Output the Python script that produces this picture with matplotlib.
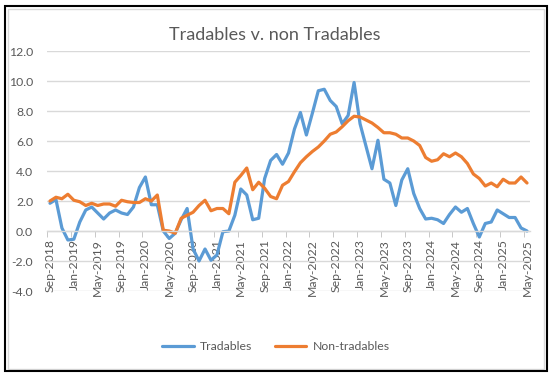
import numpy as np
import pandas as pd
import matplotlib
matplotlib.use("Agg")
import matplotlib.pyplot as plt
from matplotlib.patches import Rectangle

# monthly series, Sep-2018 .. May-2025
tradables = [
    1.85, 2.1, 0.2, -0.6, -0.55, 0.6, 1.4, 1.6, 1.2, 0.8, 1.2, 1.4, 1.2, 1.1, 1.6, 2.9,
    3.6, 1.75, 1.75, 0.0, -0.5, -0.15, 0.75, 1.5, -1.2, -2.0, -1.2, -1.95, -1.6, -0.05, 0.0, 1.05,
    2.8, 2.4, 0.75, 0.85, 3.5, 4.7, 5.1, 4.45, 5.2, 6.8, 7.9, 6.4, 7.85, 9.35, 9.45, 8.7,
    8.3, 7.15, 7.7, 9.9, 7.15, 5.65, 4.15, 6.05, 3.45, 3.2, 1.7, 3.4, 4.15, 2.5, 1.5, 0.8,
    0.85, 0.75, 0.5, 1.1, 1.6, 1.25, 1.5, 0.5, -0.4, 0.5, 0.6, 1.4, 1.15, 0.9, 0.9, 0.2,
    0.0,
]
non_tradables = [
    2.0, 2.25, 2.15, 2.45, 2.05, 1.95, 1.7, 1.85, 1.7, 1.8, 1.8, 1.65, 2.05, 1.95, 1.9, 1.9,
    2.15, 2.0, 2.4, 0.05, 0.0, -0.15, 0.85, 1.05, 1.25, 1.7, 2.05, 1.35, 1.5, 1.5, 1.15, 3.25,
    3.7, 4.2, 2.75, 3.25, 2.85, 2.3, 2.15, 3.05, 3.3, 3.95, 4.55, 4.95, 5.3, 5.6, 6.0, 6.45,
    6.6, 6.95, 7.35, 7.65, 7.6, 7.4, 7.2, 6.9, 6.55, 6.55, 6.45, 6.2, 6.2, 6.0, 5.7, 4.9,
    4.65, 4.75, 5.15, 4.95, 5.2, 4.95, 4.5, 3.8, 3.5, 3.0, 3.2, 2.95, 3.45, 3.2, 3.2, 3.6,
    3.2,
]
months = pd.date_range("2018-09-01", periods=len(tradables), freq="MS")
month_labels = [d.strftime("%b-%Y") for d in months]

plt.rcParams['font.family'] = ['Lato', 'DejaVu Sans']
grey = '#595959'

W, H = 552, 377
fig = plt.figure(figsize=(W / 100, H / 100), dpi=100)
ax = fig.add_axes([47 / W, 1 - 291 / H, (530 - 47) / W, (291 - 51) / H])

x = np.arange(len(months))
ax.plot(x, tradables, color='#5B9BD5', lw=2.3, label='Tradables', solid_capstyle='round')
ax.plot(x, non_tradables, color='#ED7D31', lw=2.3, label='Non-tradables', solid_capstyle='round')

ax.set_xlim(-0.5, len(x) - 0.5)
ax.set_ylim(-4, 12)
yt = np.arange(-4, 12.1, 2)
ax.set_yticks(yt)
ax.set_yticklabels([f"{v:.1f}" for v in yt])
ax.yaxis.grid(True, color='#D9D9D9', lw=1)
ax.set_axisbelow(True)

for s in ['top', 'right', 'left']:
    ax.spines[s].set_visible(False)
ax.spines['bottom'].set_position(('data', 0))
ax.spines['bottom'].set_color('#D9D9D9')
ax.spines['bottom'].set_linewidth(1)

major = x[::4]
ax.set_xticks(major)
ax.set_xticklabels([month_labels[i] for i in major], rotation=90)
ax.set_xticks(major - 0.5, minor=True)
ax.tick_params(axis='x', which='major', length=0, pad=6, labelsize=8.8, labelcolor=grey)
ax.tick_params(axis='x', which='minor', length=4, color='#BFBFBF', direction='out')
ax.tick_params(axis='y', length=0, pad=10, labelsize=8.8, labelcolor=grey)

fig.text(275 / W, 1 - 35 / H, 'Tradables v. non Tradables', ha='center', va='center',
         fontsize=13, color=grey)

leg = fig.legend(loc='center', bbox_to_anchor=(276 / W, 1 - 347 / H), ncol=2, frameon=False,
                 fontsize=8.8, handlelength=2.6, columnspacing=1.8, handletextpad=0.5)
for t in leg.get_texts():
    t.set_color(grey)

# frames round the chart
fig.add_artist(Rectangle((8 / W, 1 - 369 / H), (544 - 8) / W, (369 - 9) / H,
                         transform=fig.transFigure, fill=False, ec='#D9D9D9', lw=1))
fig.add_artist(Rectangle((5.5 / W, 1 - 371 / H), (546.5 - 5.5) / W, (371 - 5.5) / H,
                         transform=fig.transFigure, fill=False, ec='black', lw=1.5))

fig.savefig('out.png', dpi=100)
